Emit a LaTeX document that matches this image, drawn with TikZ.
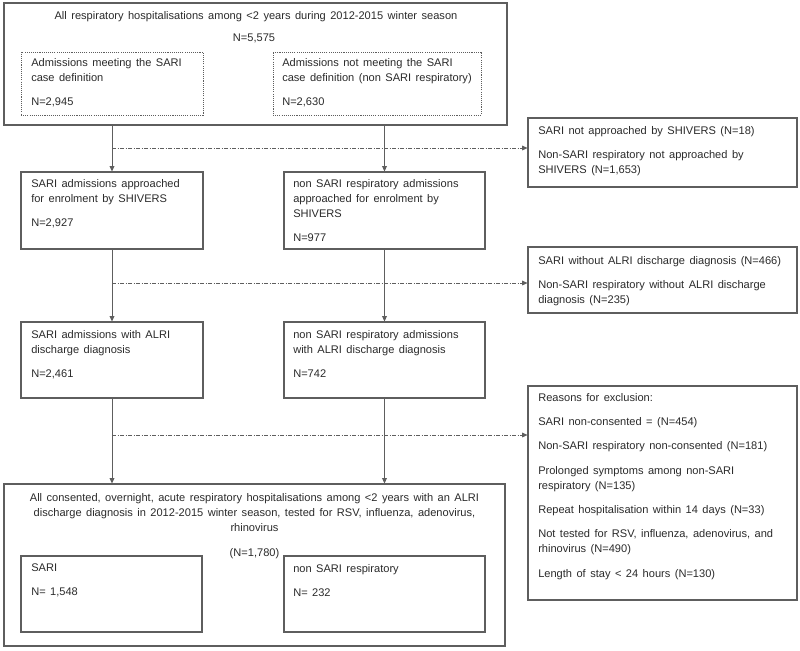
\documentclass[tikz,border=0pt]{standalone}
\usepackage{fontspec}
\setmainfont[WordSpace={1.45,0,0}]{Liberation Sans}
\usetikzlibrary{arrows.meta,fit}
\definecolor{linec}{HTML}{5E5E5E}
\definecolor{txtc}{HTML}{2B2B2B}
\newcommand\ltab[1]{\begin{tabular}[t]{@{}l@{}}#1\end{tabular}}
\newcommand\ctab[1]{\begin{tabular}[t]{@{}c@{}}#1\end{tabular}}
\begin{document}
\begin{tikzpicture}[x=0.75pt,y=-0.75pt,
  box/.style={draw=linec, line width=0.85pt, inner sep=0pt},
  dbox/.style={draw=linec, line width=0.5pt, inner sep=0pt, dash pattern=on 0.8pt off 0.8pt},
  txt/.style={inner sep=0pt, anchor=base west, text=txtc, font=\fontsize{8.3}{11.25}\selectfont},
  ctxt/.style={txt, anchor=base},
  arr/.style={draw=linec, line width=0.6pt, -{Triangle[length=4pt,width=3.6pt]}},
  dd/.style={draw=linec, line width=0.5pt, dash pattern=on 3pt off 1.2pt on 0.6pt off 1.2pt, -{Triangle[length=4pt,width=3.6pt]}}]
\useasboundingbox[fill=white] (0,0) rectangle (800,650);

% top box
\node[box, fit={(4,3) (507,125)}] (T) {};
\node[ctxt] (Tt) at (256,19) {All respiratory hospitalisations among <2 years during 2012-2015 winter season};
\node[ctxt] (Tn) at (254,41) {N=5,575};
\node[dbox, fit={(21,52) (203,115)}] (DA) {};
\node[txt] (DAt) at (31,66) {\ltab{Admissions meeting the SARI\\ case definition\\[7pt] N=2,945}};
\node[dbox, fit={(273,52) (481,115)}] (DB) {};
\node[txt] (DBt) at (282,66) {\ltab{Admissions not meeting the SARI\\ case definition (non SARI respiratory)\\[7pt] N=2,630}};

% second row
\node[box, fit={(21,172) (203,249)}] (SA) {};
\node[txt] (SAt) at (31,187) {\ltab{SARI admissions approached\\ for enrolment by SHIVERS\\[7pt] N=2,927}};
\node[box, fit={(284,172) (485,249)}] (NA) {};
\node[txt] (NAt) at (293,187) {\ltab{non SARI respiratory admissions\\ approached for enrolment by\\ SHIVERS\\[7pt] N=977}};

% third row
\node[box, fit={(21,322) (203,398)}] (SW) {};
\node[txt] (SWt) at (31,338) {\ltab{SARI admissions with ALRI\\ discharge diagnosis\\[7pt] N=2,461}};
\node[box, fit={(284,322) (485,398)}] (NW) {};
\node[txt] (NWt) at (293,338) {\ltab{non SARI respiratory admissions\\ with ALRI discharge diagnosis\\[7pt] N=742}};

% bottom box
\node[box, fit={(4,484) (505,646)}] (B) {};
\node[ctxt] (Bt) at (254.5,501) {\ctab{All consented, overnight, acute respiratory hospitalisations among <2 years with an ALRI\\ discharge diagnosis in 2012-2015 winter season, tested for RSV, influenza, adenovirus,\\ rhinovirus}};
\node[ctxt] (Bn) at (254.5,556) {(N=1,780)};
\node[box, fit={(21,556) (202,632)}] (BS) {};
\node[txt] (BSt) at (31,571) {\ltab{SARI\\[7pt] N= 1,548}};
\node[box, fit={(284,556) (485,632)}] (BN) {};
\node[txt] (BNt) at (293,572) {\ltab{non SARI respiratory\\[7pt] N= 232}};

% right boxes
\node[box, fit={(528,118) (797,187)}] (R1) {};
\node[txt] (R1t) at (538,134) {\ltab{SARI not approached by SHIVERS (N=18)\\[7pt] Non-SARI respiratory not approached by\\ SHIVERS (N=1,653)}};
\node[box, fit={(528,247) (797,313)}] (R2) {};
\node[txt] (R2t) at (538,264) {\ltab{SARI without ALRI discharge diagnosis (N=466)\\[7pt] Non-SARI respiratory without ALRI discharge\\ diagnosis (N=235)}};
\node[box, fit={(528,386) (797,600)}] (R3) {};
\node[txt] (R3t) at (538,401) {\ltab{Reasons for exclusion:\\[7pt]
 SARI non-consented = (N=454)\\[7pt]
 Non-SARI respiratory non-consented (N=181)\\[7pt]
 Prolonged symptoms among non-SARI\\ respiratory (N=135)\\[7pt]
 Repeat hospitalisation within 14 days (N=33)\\[7pt]
 Not tested for RSV, influenza, adenovirus, and\\ rhinovirus (N=490)\\[7pt]
 Length of stay < 24 hours (N=130)}};

% vertical connectors
\draw[arr] (T.south -| SA.north) -- (SA.north);
\draw[arr] (T.south -| NA.north) -- (NA.north);
\draw[arr] (SA.south) -- (SW.north);
\draw[arr] (NA.south) -- (NW.north);
\draw[arr] (SW.south) -- (SW.south |- B.north);
\draw[arr] (NW.south) -- (NW.south |- B.north);

% exclusion connectors
\coordinate (d1) at (112,148);
\coordinate (d2) at (112,283);
\coordinate (d3) at (112,435);
\draw[dd] (d1) -- (d1 -| R1.west);
\draw[dd] (d2) -- (d2 -| R2.west);
\draw[dd] (d3) -- (d3 -| R3.west);
\end{tikzpicture}
\end{document}
